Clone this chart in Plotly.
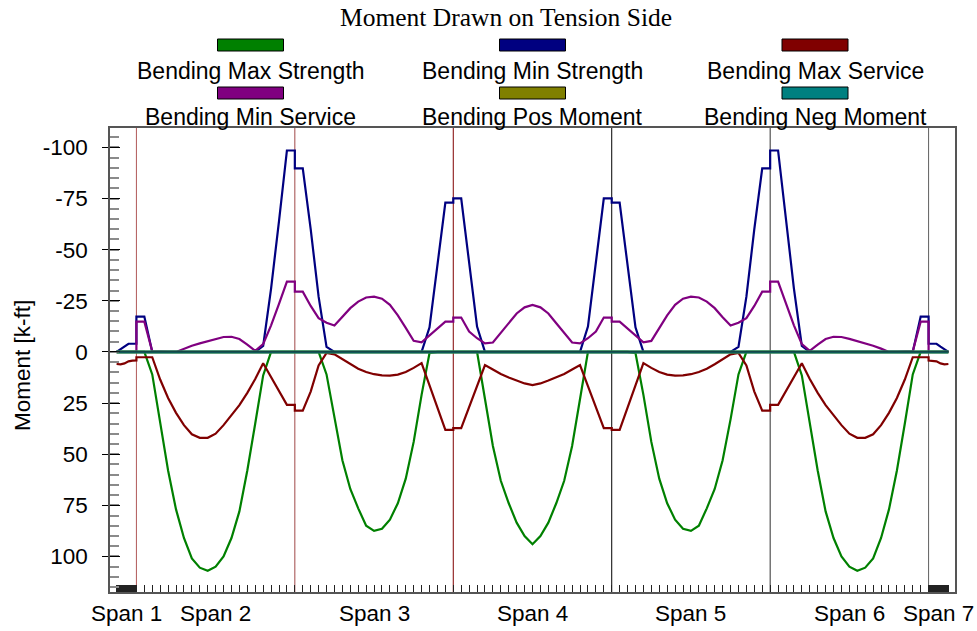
import numpy as np
import plotly.graph_objects as go

# ---------------- data ----------------
title_text = "Moment Drawn on Tension Side"
y_title = "Moment [k-ft]"
span_names = ["Span 1", "Span 2", "Span 3", "Span 4", "Span 5", "Span 6", "Span 7"]
span_starts = [2.5, 10, 70, 130, 190, 250, 310]
span_ends = [10, 70, 130, 190, 250, 310, 317.5]
supports = [10, 70, 130, 190, 250, 310]
plot_intervals = [5, 20, 20, 20, 20, 20, 5]
tick_intervals = 20

y_ticks = [-100, -75, -50, -25, 0, 25, 50, 75, 100]
y_tick_labels = ["-100", "-75", "-50", "-25", "0", "25", "50", "75", "100"]

bending_max_strength = [
    0, 0, 0, 0, 0, 0,
    0, 0, 11, 35, 58, 77, 91, 101, 105.5, 107, 105, 100, 91, 78, 58, 35, 11.5, 0, 0, 0, 0,
    0, 0, 0, 0, 11, 33, 53, 67, 76.5, 85, 87.5, 86.5, 82, 74, 62, 44, 21, 0.5, 0, 0, 0,
    0, 0, 0, 0, 23, 46, 63, 74, 83.5, 90, 94, 90, 83.5, 74, 63, 46, 23, 0, 0, 0, 0,
    0, 0, 0, 0.5, 21, 44, 62, 74, 82, 86.5, 87.5, 85, 76.5, 67, 53, 33, 11, 0, 0, 0, 0,
    0, 0, 0, 0, 11.5, 35, 58, 78, 91, 100, 105, 107, 105.5, 101, 91, 77, 58, 35, 11, 0, 0,
    0, 0, 0, 0, 0, 0,
]
bending_min_strength = [
    0, -1.3, -2.6, -4, -4, -4,
    -17.3, -17.3, 0, 0, 0, 0, 0, 0, 0, 0, 0, 0, 0, 0, 0, 0, -3, -31, -64, -98.5, -98.5,
    -89.8, -89.8, -60, -27, -2.5, 0, 0, 0, 0, 0, 0, 0, 0, 0, 0, 0, 0, -12, -42, -73, -73,
    -75.1, -75.1, -43, -12.4, 0, 0, 0, 0, 0, 0, 0, 0, 0, 0, 0, 0, 0, -12.4, -43, -75.1, -75.1,
    -73, -73, -42, -12, 0, 0, 0, 0, 0, 0, 0, 0, 0, 0, 0, 0, -2.5, -27, -60, -89.8, -89.8,
    -98.5, -98.5, -64, -31, -3, 0, 0, 0, 0, 0, 0, 0, 0, 0, 0, 0, 0, 0, 0, -17.3, -17.3,
    -4, -4, -4, -2.6, -1.3, 0,
]
bending_max_service = [
    5.9, 6.1, 5.6, 4.6, 4.3, 4.2,
    2.6, 2.6, 2.6, 13.5, 22.5, 29.8, 35.8, 40.3, 42, 42, 40, 35.8, 31, 26, 20, 13.2, 5.5, 12.3, 19.2, 25.9, 25.9,
    28.7, 28.7, 19.4, 6.6, 0.5, 1.2, 3.5, 6, 8.2, 9.8, 10.9, 11.5, 11.6, 11.1, 9.8, 7.8, 5.5, 16.3, 27.2, 38.1, 38.1,
    37.3, 37.3, 27, 16.7, 6.4, 8.6, 10.8, 12.5, 14, 15.4, 16.2, 15.4, 14, 12.5, 10.8, 8.6, 6.4, 16.7, 27, 37.3, 37.3,
    38.1, 38.1, 27.2, 16.3, 5.5, 7.8, 9.8, 11.1, 11.6, 11.5, 10.9, 9.8, 8.2, 6, 3.5, 1.2, 0.5, 6.6, 19.4, 28.7, 28.7,
    25.9, 25.9, 19.2, 12.3, 5.5, 13.2, 20, 26, 31, 35.8, 40, 42, 42, 40.3, 35.8, 29.8, 22.5, 13.5, 2.6, 2.6, 2.6,
    4.2, 4.3, 4.6, 5.6, 6.1, 5.9,
]
bending_min_service = [
    0, 0, 0, 0, 0, 0,
    -14.8, -14.8, -0.3, 0, 0, 0, -1.6, -3, -4.2, -5.3, -6.4, -7.3, -7.4, -6.3, -3.6, -0.5, -3.8, -13, -23.5, -34.4, -34.4,
    -29.5, -29.5, -22.5, -16.5, -14.3, -12.9, -17, -21.4, -24.6, -26.6, -27, -26, -23, -17.9, -11.8, -5.4, -4.7, -8, -11.5, -14.8, -14.8,
    -16.8, -16.8, -10, -6.7, -4.2, -4.6, -9.3, -14, -18.8, -21.8, -23, -21.8, -18.8, -14, -9.3, -4.6, -4.2, -6.7, -10, -16.8, -16.8,
    -14.8, -14.8, -11.5, -8, -4.7, -5.4, -11.8, -17.9, -23, -26, -27, -26.6, -24.6, -21.4, -17, -12.9, -14.3, -16.5, -22.5, -29.5, -29.5,
    -34.4, -34.4, -23.5, -13, -3.8, -0.5, -3.6, -6.3, -7.4, -7.3, -6.4, -5.3, -4.2, -3, -1.6, 0, 0, 0, -0.3, -14.8, -14.8,
    0, 0, 0, 0, 0, 0,
]
n_pts = len(bending_max_strength)
bending_pos_moment = [0] * n_pts
bending_neg_moment = [0] * n_pts

series_names = ["Bending Max Strength", "Bending Min Strength", "Bending Max Service",
                "Bending Min Service", "Bending Pos Moment", "Bending Neg Moment"]
series_colors = ["#008000", "#000080", "#800000", "#800080", "#808000", "#008080"]
support_colors = ["#b05858", "#a04848", "#800000", "#000000", "#303030", "#606060"]

# ---------------- stations ----------------
stations = np.concatenate([np.linspace(s, e, n + 1)
                           for s, e, n in zip(span_starts, span_ends, plot_intervals)])
tick_stations = np.unique(np.concatenate([np.linspace(s, e, tick_intervals + 1)
                                          for s, e in zip(span_starts, span_ends)]))
span_mids = [(s + e) / 2 for s, e in zip(span_starts, span_ends)]

# ---------------- layout geometry ----------------
W, H = 977, 631
ML, MR, MT, MB = 110, 22, 128, 39
PW, PH = W - ML - MR, H - MT - MB


def fx(px):
    return (px - ML) / PW


def fy(py):
    return (H - MB - py) / PH


fig = go.Figure()
all_series = [bending_max_strength, bending_min_strength, bending_max_service,
              bending_min_service, bending_pos_moment, bending_neg_moment]
for i, (name, vals, col) in enumerate(zip(series_names, all_series, series_colors)):
    fig.add_trace(go.Scatter(x=stations, y=vals, mode="lines", name=name,
                             line=dict(color=col, width=3 if i >= 4 else 2.2),
                             showlegend=False,
                             yaxis="y2" if i == 5 else "y"))

shapes = []
for s, c in zip(supports, support_colors):
    shapes.append(dict(type="line", xref="x", yref="paper", x0=s, x1=s, y0=0, y1=1,
                       line=dict(color=c, width=1), layer="below"))
# axis zero reference line drawn over the zero-valued series
shapes.append(dict(type="line", xref="x", yref="y", x0=span_starts[0], x1=span_ends[-1], y0=0, y1=0,
                   line=dict(color="#1c3430", width=1.3), layer="above"))

annotations = []
# title
annotations.append(dict(text=title_text, xref="paper", yref="paper", x=fx(505.5), y=fy(17),
                        xanchor="center", yanchor="middle", showarrow=False,
                        font=dict(family="Liberation Serif, Times New Roman, serif", size=25.5, color="black")))
# y title
annotations.append(dict(text=y_title, xref="paper", yref="paper", x=fx(22), y=fy(366),
                        xanchor="center", yanchor="middle", showarrow=False, textangle=-90,
                        font=dict(family="Liberation Sans, Arial, sans-serif", size=22.5, color="black")))
# legend
col_cx = [250.5, 532.5, 815]
row_sw_y = [45, 93]
row_lab_y = [71, 117]
for i, (name, col) in enumerate(zip(series_names, series_colors)):
    r, c = divmod(i, 3)
    cx = col_cx[c]
    sy = row_sw_y[r]
    shapes.append(dict(type="rect", xref="paper", yref="paper",
                       x0=fx(cx - 33), x1=fx(cx + 33), y0=fy(sy + 6), y1=fy(sy - 6),
                       fillcolor=col, line=dict(color="black", width=1)))
    annotations.append(dict(text=name, xref="paper", yref="paper", x=fx(cx), y=fy(row_lab_y[r]),
                            xanchor="center", yanchor="middle", showarrow=False,
                            font=dict(family="Liberation Sans, Arial, sans-serif", size=23, color="black")))
# span labels
for name, xm in zip(span_names, span_mids):
    annotations.append(dict(text=name, xref="x", yref="paper", x=xm, y=fy(613),
                            xanchor="center", yanchor="middle", showarrow=False,
                            font=dict(family="Liberation Sans, Arial, sans-serif", size=22.5, color="black")))

yr = [117.4, -109.5]
fig.update_layout(
    width=W, height=H,
    margin=dict(l=ML, r=MR, t=MT, b=MB, pad=0),
    paper_bgcolor="white", plot_bgcolor="white",
    showlegend=False,
    shapes=shapes, annotations=annotations,
    xaxis=dict(range=[0, 320], tickmode="array", tickvals=tick_stations, showticklabels=False,
               ticks="inside", ticklen=7, tickwidth=1, tickcolor="#222",
               showline=True, linecolor="#555", linewidth=1.5, mirror=True,
               showgrid=False, zeroline=False),
    yaxis=dict(range=yr, tickmode="array", tickvals=y_ticks, ticktext=y_tick_labels,
               ticks="outside", ticklen=6, tickwidth=1, tickcolor="black",
               ticklabelstandoff=10,
               tickfont=dict(family="Liberation Sans, Arial, sans-serif", size=22.5, color="black"),
               minor=dict(tickmode="linear", tick0=0, dtick=5, ticks="inside", ticklen=9,
                          tickcolor="#8a8a8a", tickwidth=1.5),
               showline=True, linecolor="#555", linewidth=1.5, mirror=True,
               showgrid=False, zeroline=False),
    yaxis2=dict(range=yr, overlaying="y", anchor="x", side="left",
                tickmode="array", tickvals=y_ticks, showticklabels=False,
                ticks="inside", ticklen=10, tickwidth=1, tickcolor="black",
                showline=False, showgrid=False, zeroline=False),
)

fig.write_html("out.html", config={"displayModeBar": False},
               post_script="document.body.style.margin='0';document.body.style.overflow='hidden';")
